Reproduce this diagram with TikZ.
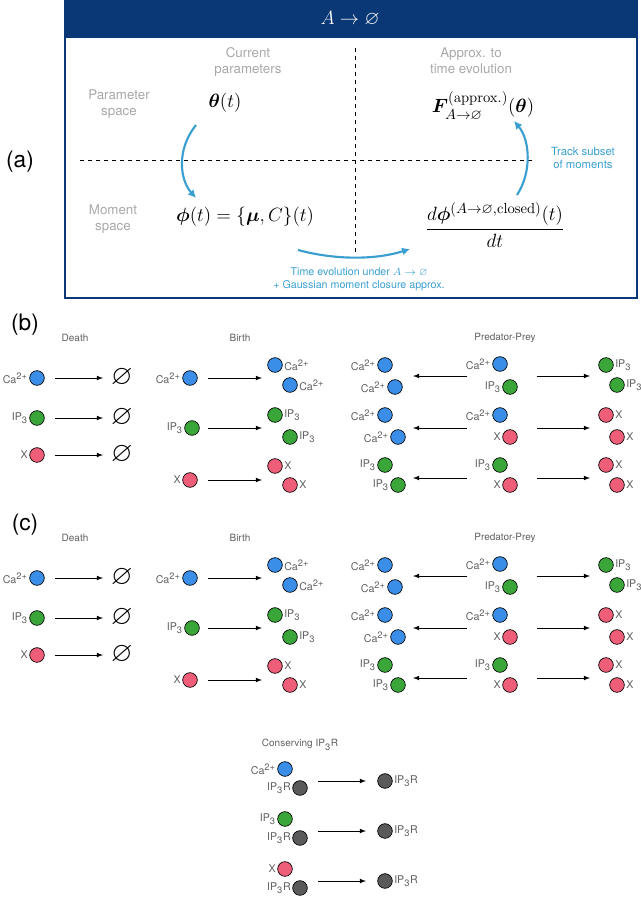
\documentclass[tikz,border=0pt]{standalone}
\usepackage{amsmath,amssymb,bm}
\usepackage[no-math]{fontspec}
\setmainfont{TeX Gyre Heros}
\definecolor{hdr}{HTML}{0A3775}
\definecolor{ca}{HTML}{3B8EE8}
\definecolor{ip}{HTML}{3AA63A}
\definecolor{xx}{HTML}{EE5E78}
\definecolor{rr}{HTML}{5A5A5A}
\definecolor{lt}{HTML}{A8A8A8}
\definecolor{tk}{HTML}{3A9FD0}
\definecolor{lb}{HTML}{606060}
\usetikzlibrary{arrows.meta}
\tikzset{
  sp/.style={circle, draw=black, line width=0.5pt, minimum size=11pt, inner sep=0pt},
  lab/.style={font=\fontsize{8}{9}\selectfont, text=lb, inner sep=1pt},
  ttl/.style={font=\fontsize{7.5}{8}\selectfont, text=lb},
  rx/.style={-latex, line width=0.6pt},
  gr/.style={font=\fontsize{10}{12}\selectfont, text=lt, align=center},
  blu/.style={tk, line width=1.6pt, -{Latex[length=6pt,width=6pt]}},
  pl/.style={font=\fontsize{17}{19}\selectfont},
  mth/.style={font=\fontsize{15.5}{18}\selectfont},
}
\newcommand{\Ca}{Ca\textsuperscript{\fontsize{7}{8}\selectfont 2+}}
\newcommand{\IP}{IP\textsubscript{\fontsize{7}{8}\selectfont 3}}
\newcommand{\IPR}{IP\textsubscript{\fontsize{7}{8}\selectfont 3}R}
% one species: name, x, y, colour, label side, label
\newcommand{\spc}[6]{\node[sp, fill=#4, label={[lab]#5:#6}] (#1) at (#2,#3) {};}
\newcommand{\pan}{%
  \node[ttl] (tdeath) at (75,338) {Death};
  \node[ttl] (tbirth) at (240,338) {Birth};
  \node[ttl] (tpp) at (505,338) {Predator-Prey};
  % death
  \spc{d1}{37}{378}{ca}{left}{\Ca}
  \spc{d2}{37}{418}{ip}{left}{\IP}
  \spc{d3}{37}{455}{xx}{left}{X}
  \foreach \i/\y in {1/378,2/418,3/455}{
    \node[font=\huge, inner sep=0pt] (e\i) at (122,\y) {$\varnothing$};
    \coordinate (ds\i) at (55,\y);
    \draw[rx] (ds\i) -- ([xshift=-6pt]e\i.west);
  }
  % birth
  \spc{b1}{190}{378}{ca}{left}{\Ca}
  \spc{b2}{192}{428}{ip}{left}{\IP}
  \spc{b3}{190}{480}{xx}{left}{X}
  \spc{b1a}{275}{365}{ca}{right}{\Ca}
  \spc{b1b}{290}{385}{ca}{right}{\Ca}
  \spc{b2a}{275}{415}{ip}{right}{\IP}
  \spc{b2b}{290}{437}{ip}{right}{\IP}
  \spc{b3a}{275}{466}{xx}{right}{X}
  \spc{b3b}{290}{485}{xx}{right}{X}
  \foreach \i/\y in {1/378,2/428,3/480}{
    \coordinate (bs\i) at (208,\y);
    \coordinate (be\i) at (262,\y);
    \draw[rx] (bs\i) -- (be\i);
  }
  % predator-prey
  \spc{p1a}{385}{365}{ca}{left}{\Ca}
  \spc{p1b}{395}{387}{ca}{left}{\Ca}
  \spc{p2a}{385}{415}{ca}{left}{\Ca}
  \spc{p2b}{398}{437}{ca}{left}{\Ca}
  \spc{p3a}{385}{465}{ip}{left}{\IP}
  \spc{p3b}{398}{485}{ip}{left}{\IP}
  \spc{q1a}{500}{364}{ca}{left}{\Ca}
  \spc{q1b}{510}{387}{ip}{left}{\IP}
  \spc{q2a}{500}{415}{ca}{left}{\Ca}
  \spc{q2b}{510}{437}{xx}{left}{X}
  \spc{q3a}{500}{465}{ip}{left}{\IP}
  \spc{q3b}{510}{485}{xx}{left}{X}
  \spc{r1a}{606}{365}{ip}{right}{\IP}
  \spc{r1b}{617}{385}{ip}{right}{\IP}
  \spc{r2a}{606}{415}{xx}{right}{X}
  \spc{r2b}{617}{437}{xx}{right}{X}
  \spc{r3a}{606}{465}{xx}{right}{X}
  \spc{r3b}{617}{485}{xx}{right}{X}
  \foreach \i/\y in {1/376,2/428,3/478}{
    \coordinate (pl\i) at (467,\y);
    \coordinate (pe\i) at (413,\y);
    \coordinate (pr\i) at (537,\y);
    \coordinate (pf\i) at (590,\y);
    \draw[rx] (pl\i) -- (pe\i);
    \draw[rx] (pr\i) -- (pf\i);
  }
}
\begin{document}
\begin{tikzpicture}[x=0.75pt, y=-0.75pt]
\useasboundingbox (0,0) rectangle (640,899);
% ---------- panel (a)
\node[pl] (la) at (20,162) {(a)};
\fill[hdr] (65,1) rectangle (637,38);
\draw[hdr, line width=1.2pt] (65,1) rectangle (637,298);
\node[text=white, font=\Large] (ttl) at (350,19) {$A\to\varnothing$};
\draw[dashed, line width=0.5pt] (355,48) -- (355,255);
\draw[dashed, line width=0.5pt] (80,160) -- (535,160);
\node[gr] (ps) at (119,104) {Parameter\\space};
\node[gr] (cp) at (248,62) {Current\\parameters};
\node[gr] (ms) at (113,219) {Moment\\space};
\node[gr] (at) at (471,61) {Approx. to\\time evolution};
\node[mth] (th) at (225,103) {$\bm{\theta}(t)$};
\node[mth] (F) at (483,106) {$\bm{F}^{(\mathrm{approx.})}_{A\to\varnothing}(\bm{\theta})$};
\node[mth] (ph) at (245,217) {$\bm{\phi}(t)=\{\bm{\mu},C\}(t)$};
\node[mth] (dp) at (495,225) {$\dfrac{d\bm{\phi}^{(A\to\varnothing,\mathrm{closed})}(t)}{dt}$};
\node[font=\fontsize{8.5}{10}\selectfont, text=tk, align=center] (tr) at (583,158) {Track subset\\of moments};
\node[font=\fontsize{8}{10}\selectfont, text=tk, align=center] (te) at (359,279) {Time evolution under $A\to\varnothing$\\+ Gaussian moment closure approx.};
\coordinate (a1) at (196,125);
\coordinate (a2) at (196,198);
\draw[blu] (a1) .. controls (176,150) and (180,180) .. (a2);
\coordinate (b1) at (517,195);
\coordinate (b2) at (514,121);
\draw[blu] (b1) .. controls (532,172) and (530,140) .. (b2);
\coordinate (c1) at (298,250);
\coordinate (c2) at (410,249);
\draw[blu] (c1) .. controls (335,260) and (375,260) .. (c2);
% ---------- panel (b)
\node[pl] (lb) at (25,325) {(b)};
\begin{scope}[name prefix=b-]\pan\end{scope}
% ---------- panel (c)
\node[pl] (lc) at (25,525) {(c)};
\begin{scope}[yshift=-150pt, name prefix=c-]\pan\end{scope}
% ---------- conserving IP3R
\node[ttl] (tc) at (300,745) {Conserving \IPR};
\foreach \i/\c/\l in {0/ca/\Ca,1/ip/\IP,2/xx/X}{
  \pgfmathsetmacro{\yy}{769+50*\i}
  \spc{k\i a}{285}{\yy}{\c}{left}{\l}
  \spc{k\i b}{300}{\yy+19}{rr}{left}{\IPR}
  \spc{k\i p}{385}{\yy+12}{rr}{right}{\IPR}
  \coordinate (ks\i) at (318,\yy+12);
  \coordinate (ke\i) at (366,\yy+12);
  \draw[rx] (ks\i) -- (ke\i);
}
\end{tikzpicture}
\end{document}
